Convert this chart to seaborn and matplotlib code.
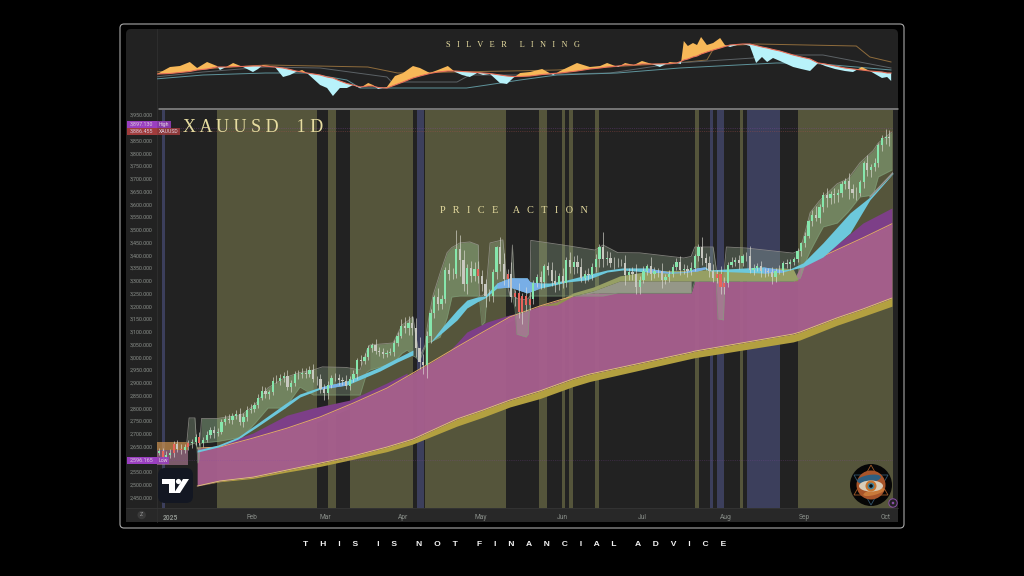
import numpy as np
import pandas as pd
import seaborn as sns
import matplotlib
matplotlib.use("Agg")
import matplotlib.pyplot as plt
from matplotlib.patches import FancyBboxPatch, Rectangle, Circle, Ellipse, Polygon

# daily closes, bar -3 is the last days of Dec 2024
closes = [2634, 2608, 2618,
          2624, 2658, 2640, 2638, 2648, 2662, 2668, 2689, 2664, 2677, 2697, 2715, 2703, 2708, 2745, 2756, 2755, 2770, 2778, 2745, 2764, 2795, 2799,
          2814, 2842, 2868, 2855, 2862, 2908, 2907, 2920, 2925, 2882, 2898, 2935, 2933, 2937, 2936, 2950, 2915, 2916, 2876, 2858,
          2893, 2918, 2920, 2909, 2907, 2889, 2916, 2934, 2988, 2985, 3001, 3035, 3047, 3023, 3022, 3012, 3018, 3020, 3057, 3085, 3123,
          3113, 3133, 3113, 3037, 2982, 2968, 3082, 3175, 3237, 3210, 3229, 3343, 3327, 3327, 3424, 3381, 3288, 3349, 3319, 3344, 3317, 3288,
          3238, 3240, 3335, 3431, 3365, 3306, 3325, 3235, 3250, 3178, 3240, 3205, 3230, 3290, 3315, 3295, 3357, 3342, 3300, 3288, 3318, 3290,
          3380, 3352, 3373, 3352, 3310, 3325, 3322, 3355, 3385, 3432, 3385, 3388, 3369, 3368, 3368, 3368, 3323, 3333, 3328, 3274, 3303,
          3338, 3357, 3326, 3337, 3337, 3302, 3313, 3325, 3355, 3372, 3343, 3347, 3339, 3350, 3396, 3431, 3387, 3368, 3337, 3310, 3327, 3275, 3290,
          3363, 3373, 3380, 3369, 3396, 3397, 3342, 3348, 3356, 3338, 3336, 3333, 3315, 3338, 3338, 3371, 3365, 3375, 3385, 3417, 3447,
          3476, 3533, 3559, 3546, 3587, 3635, 3626, 3641, 3634, 3643, 3677, 3690, 3660, 3645, 3645, 3685, 3763, 3735, 3745, 3760, 3830, 3858,
          3865, 3858]
wick_up = [12, 10, 14,
           16, 12, 18, 20, 10, 14, 12, 10, 18, 12, 14, 10, 16, 14, 12, 18, 22, 10, 14, 24, 16, 12, 18,
           12, 14, 18, 16, 10, 14, 22, 16, 18, 26, 12, 10, 16, 20, 22, 14, 24, 12, 18, 20,
           12, 14, 18, 16, 14, 22, 12, 14, 10, 20, 14, 12, 10, 24, 16, 14, 12, 16, 10, 12, 26,
           36, 30, 28, 40, 44, 30, 22, 14, 8, 34, 16, 10, 28, 22, 76, 56, 40, 18, 30, 28, 34, 24,
           20, 26, 12, 4, 40, 44, 22, 50, 14, 40, 12, 36, 26, 12, 10, 24, 8, 16, 30, 40, 14, 30,
           12, 32, 24, 26, 36, 18, 26, 16, 18, 12, 58, 30, 26, 24, 20, 18, 34, 16, 20, 36, 14,
           20, 8, 36, 18, 12, 32, 14, 16, 10, 18, 24, 18, 14, 24, 8, 12, 42, 22, 28, 30, 16, 30, 24,
           10, 18, 12, 22, 8, 14, 40, 16, 14, 22, 12, 14, 20, 12, 22, 8, 14, 10, 8, 10, 6,
           14, 6, 20, 34, 12, 12, 30, 10, 24, 18, 12, 12, 34, 20, 22, 10, 6, 28, 14, 22, 10, 12,
           28, 26]
wick_dn = [10, 14, 12,
           12, 16, 10, 18, 12, 10, 16, 14, 8, 14, 10, 12, 18, 12, 10, 12, 14, 16, 12, 10, 18, 14, 12,
           14, 12, 10, 16, 18, 12, 8, 14, 16, 10, 20, 12, 18, 14, 16, 14, 12, 22, 16, 24,
           20, 14, 12, 18, 16, 14, 16, 12, 18, 14, 12, 10, 14, 12, 18, 16, 12, 10, 14, 12, 10,
           18, 24, 26, 36, 30, 32, 50, 26, 20, 24, 20, 16, 24, 20, 18, 62, 30, 40, 24, 20, 28, 30,
           40, 18, 22, 30, 26, 24, 30, 20, 36, 24, 48, 22, 20, 22, 16, 26, 22, 18, 22, 32, 24, 20,
           14, 20, 26, 22, 14, 20, 24, 18, 22, 30, 30, 24, 16, 22, 14, 12, 40, 20, 24, 28, 26,
           12, 16, 22, 14, 22, 30, 16, 18, 10, 14, 20, 18, 26, 18, 14, 20, 24, 26, 22, 16, 20, 26, 28,
           14, 10, 16, 22, 12, 18, 10, 20, 12, 24, 22, 14, 28, 20, 12, 14, 16, 22, 12, 10, 20,
           16, 10, 18, 14, 20, 18, 36, 24, 30, 26, 14, 16, 40, 22, 28, 12, 22, 24, 30, 14, 16, 20,
           24, 30]
red_days = [-2, 1, 3, 5, 8, 84, 92, 94, 95, 96, 97, 98, 149, 150, 151]

# vertical session bands, bar units
olive_spans = [(12.8, 40.05), (43.05, 45.2), (49.05, 66.2), (69.5, 91.55), (100.5, 102.7), (106.8, 107.6),
               (108.7, 109.8), (115.8, 116.9), (143.0, 144.1), (155.3, 156.1), (171.1, 196.9)]
blue_spans = [(-2.26, -1.36), (67.3, 69.2), (147.1, 148.0), (149.0, 151.0), (157.2, 166.2)]

# long moving-average ribbons
ma_x = [7.4, 13.6, 22.6, 31.9, 40.9, 49.9, 59.1, 66.2, 78.2, 85.3, 92.6, 100.8, 109.8, 114.4, 142, 143, 169.8, 171.7, 181.7, 188.8, 196.7]
pink_top = [2644, 2648, 2683, 2722, 2766, 2820, 2879, 2938, 3040, 3099, 3158, 3201, 3240, 3252, 3252, 3299, 3299, 3354, 3421, 3468, 3523]
pink_bot = [2495, 2515, 2530, 2558, 2585, 2613, 2648, 2679, 2758, 2793, 2832, 2868, 2915, 2934, 3020, 3024, 3091, 3099, 3154, 3189, 3232]
gold_bot = [2495, 2512, 2525, 2550, 2572, 2600, 2630, 2660, 2730, 2765, 2805, 2838, 2885, 2905, 2995, 2998, 3060, 3068, 3125, 3160, 3200]

purple_a_x = [13.6, 22.6, 31.9, 39, 49, 59.1, 64.6]
purple_a_top = [2656, 2703, 2773, 2801, 2832, 2899, 2938]
purple_a_bot = [2640, 2670, 2710, 2740, 2800, 2870, 2920]
purple_b_x = [76.3, 78.2, 80.9, 86.4, 92.6, 95.4]
purple_b_top = [3028, 3056, 3099, 3138, 3166, 3174]
purple_b_bot = [3020, 3030, 3050, 3090, 3140, 3160]
purple_c_x = [171.7, 177, 182.6, 188.8, 196.7]
purple_c_top = [3354, 3401, 3452, 3526, 3585]
purple_c_bot = [3340, 3370, 3410, 3450, 3510]

olive_ma_x = [100.8, 105.4, 109.8, 115.3, 122.6, 130.8, 144.1, 167, 169.8, 171]
olive_ma_top = [3201, 3217, 3252, 3275, 3319, 3338, 3342, 3350, 3346, 3310]
olive_ma_bot = [3201, 3205, 3240, 3260, 3299, 3299, 3299, 3299, 3299, 3300]
pale_x = [109.8, 115.3, 122.6, 142]
pale_top = [3240, 3260, 3299, 3299]
pale_bot = [3240, 3252, 3252, 3252]

# fast ribbon, cyan with blue stretches
fast_a_x = [7.4, 13.1, 18.5, 23.2, 31.3, 35.4, 40.9, 48.2, 57.2, 61.9, 66.2]
fast_a_top = [2636, 2656, 2687, 2734, 2817, 2856, 2883, 2907, 2962, 2997, 3028]
fast_a_bot = [2628, 2648, 2679, 2722, 2801, 2844, 2875, 2891, 2946, 2981, 3009]
fast_b_x = [70.8, 74.4, 78.2, 80.9, 83.7, 85.8, 89.1, 92.6, 97.3, 98.1, 100.8, 103.5, 108.2, 113.6, 119.1, 123.4, 130, 136.2,
            139.8, 143.6, 145.8, 147.1, 161.6, 167, 168.9, 172.5, 177.9, 185.3, 190.7, 197]
fast_b_top = [3056, 3122, 3185, 3224, 3236, 3240, 3291, 3311, 3311, 3295, 3291, 3291, 3303, 3323, 3342, 3350, 3350, 3334,
              3334, 3350, 3354, 3342, 3354, 3342, 3346, 3370, 3448, 3566, 3628, 3723]
fast_b_bot = [3056, 3099, 3146, 3193, 3217, 3232, 3271, 3275, 3252, 3256, 3271, 3279, 3295, 3303, 3334, 3342, 3334, 3330,
              3332, 3338, 3346, 3338, 3330, 3334, 3342, 3354, 3393, 3487, 3617, 3720]
fast_blue_ranges = [(38, 50), (86, 103), (127, 147), (150, 168)]

# price envelope
env_x = [4.6, 5.2, 6.8, 7.3, 7.6, 7.9, 8.3, 8.6, 13, 19.6, 23.2, 26.7, 31.3, 35.4, 39, 41.5, 48, 51.8, 53.7, 54.5, 60.8, 63.2,
         64.6, 66.2, 66.8, 68, 69.5, 70, 70.8, 71.7, 73.6, 75.5, 76.8, 79, 81.7, 84, 84.3, 85, 85.8, 86.4, 87.2, 90.7, 91.8, 92.6,
         93.3, 94, 94.5, 97, 97.6, 98.1, 98.3, 107, 115.8, 118, 122, 128, 140, 142, 143, 148, 148.8, 149.3, 150.8, 151.2, 151.6,
         157, 169.8, 171.7, 173.6, 174.4, 176.8, 178, 181.8, 184.8, 188, 191.6, 193, 196.7]
env_top = [2668, 2762, 2762, 2650, 2640, 2640, 2700, 2760, 2760, 2775, 2815, 2880, 2920, 2940, 2950, 2962, 2960, 2950, 3030, 3048, 3056, 3126,
           3140, 3158, 3100, 3000, 3048, 3110, 3177, 3244, 3330, 3410, 3430, 3448, 3452, 3440, 3240, 3240, 3250, 3311, 3448, 3460, 3295, 3240,
           3440, 3240, 3230, 3225, 3230, 3240, 3458, 3440, 3420, 3440, 3410, 3409, 3389, 3395, 3432, 3432, 3350, 3295, 3295, 3370, 3432,
           3428, 3408, 3420, 3520, 3566, 3610, 3628, 3680, 3700, 3762, 3810, 3840, 3883]
env_bot = [2650, 2655, 2664, 2650, 2585, 2600, 2660, 2664, 2670, 2687, 2742, 2801, 2801, 2883, 2852, 2852, 2852, 2852, 2942, 2950, 2977, 3015,
           3028, 3005, 3001, 2985, 3040, 3056, 3060, 3065, 3079, 3154, 3236, 3240, 3240, 3240, 3230, 3126, 3138, 3240, 3240, 3240, 3240, 3240,
           3240, 3190, 3090, 3079, 3090, 3240, 3240, 3240, 3240, 3240, 3252, 3252, 3252, 3252, 3298, 3298, 3298, 3150, 3146, 3298, 3298,
           3298, 3298, 3310, 3389, 3415, 3480, 3511, 3526, 3570, 3628, 3636, 3707, 3734]
# stretches of the envelope that read greener, price over the fast ribbon
green_ranges = [(8.6, 39), (54.5, 66.2), (70, 84), (171.7, 196.7)]

# start of year box
box_x = [-3.5, 4.8]
box_top = [2668, 2668]
box_mid = [2635, 2635]
box_bot = [2577, 2577]

# upper pane
osc_x = [-3.5, 0, 2.7, 5.4, 7.4, 10.1, 12.8, 13.6, 15.3, 17.2, 19.9, 22.6, 24, 25.3, 27.2, 28.6, 30.8, 32.7, 34.3, 36, 37.3, 40.9, 42.8, 44.4,
         46.3, 48.2, 49.9, 51.8, 54, 55.3, 56.7, 59.1, 61.3, 63.5, 66.2, 68.1, 70.8, 73, 75.7, 77.7, 79.6, 81.7, 83.7, 85.3, 87.2, 89.9, 91.8,
         93.5, 95.4, 98.1, 101.4, 104.4, 106.3, 110.9, 114.4, 117.2, 119.1, 122.1, 124, 126.4, 128.6, 131.3, 133.5, 136.2, 138.1, 139.2, 140,
         141.1, 142.5, 143.6, 144.7, 146.3, 148, 149.9, 151.2, 152.6, 154.5, 156.1, 158, 159.7, 161.3, 162.7, 164.3, 166.2, 169.8, 172, 174.4,
         176.6, 178.5, 181.2, 183.9, 186.1, 188.5, 190.7, 194, 195.4, 196.5]
osc_val = [34, 41, 42, 46, 40, 46, 42, 38, 41, 45, 41, 36, 39, 43, 42, 41, 31, 33, 36, 38, 35, 23, 20, 12,
           20, 20, 23, 20, 25, 23, 19, 21, 32, 35, 42, 40, 35, 38, 42, 36, 33, 31, 35, 33, 34, 25, 24,
           30, 35, 36, 39, 33, 37, 45, 41, 42, 45, 41, 45, 43, 47, 44, 41, 46, 45, 44, 67,
           62, 65, 63, 71, 63, 65, 70, 63, 61, 63, 64, 62, 45, 51, 46, 50, 47, 41, 39, 37,
           45, 42, 39, 37, 36, 41, 37, 30, 31, 27]
osc_base = [34, 34.5, 35.5, 36.5, 38, 39, 41, 41, 41, 41.5, 41.5, 42, 42, 42, 41.5, 41, 40, 38.5, 37, 36, 35, 33, 31, 30,
            27, 24.5, 23, 21, 22, 22, 20.5, 20, 23, 26, 30, 32, 34.5, 36, 37, 37, 36.5, 36, 35.5, 35, 34.5, 33, 32,
            31.5, 31.5, 32, 33.5, 34.5, 35, 37, 39, 40, 41, 42, 43, 43, 44, 44, 44, 44.5, 45, 46.5, 48,
            49, 51, 52, 54, 56, 58, 60, 61.5, 63, 63.5, 64, 64, 62.5, 61, 60, 58.5, 57, 53, 51, 49,
            45, 44, 42, 40, 39, 38, 37, 36, 35, 35]
slow_x = [-4.1, 26, 53.9, 62, 92.6, 105.4, 138.1, 146.3, 147.9, 150.6, 159.8, 187, 190.7, 196.5]
slow_val = [36, 43, 41, 35, 37, 38, 45, 48, 58, 62, 64, 62, 51, 46]
grey_x = [-4.1, 9, 26, 40.9, 59.1, 60.4, 78.2, 81.7, 95.4, 119.9, 138.1, 158.9, 159.8, 177.9, 196.5]
grey_val = [31, 36, 41, 40, 31, 26, 26, 33, 33, 35, 45, 50, 53, 53, 40]
teal_x = [-4.1, 9, 26, 37, 48.2, 51.8, 80.8, 86.4, 95.4, 105.4, 121.8, 138.9, 165.2, 174.4, 196.5]
teal_val = [29, 33, 35, 35, 28, 20, 20, 23, 28, 33, 35, 40, 45, 45, 38]

month_ticks = [0, 22.3, 42.2, 63.5, 84.8, 107, 128.6, 151.5, 172.8, 195]
month_labels = ['2025', 'Feb', 'Mar', 'Apr', 'May', 'Jun', 'Jul', 'Aug', 'Sep', 'Oct']
price_ticks = list(range(2450, 4000, 50))
price_high = 3897.13
price_last = 3886.455
price_low = 2596.165

BG = '#222222'
CREAM = '#e6dca0'
sns.set_theme(style='dark', rc={'axes.facecolor': BG, 'figure.facecolor': 'black'})
plt.rcParams['font.family'] = ['Roboto', 'DejaVu Sans']

W, H = 1024, 576
fig = plt.figure(figsize=(W / 100, H / 100), dpi=100)


def px_axes(x0, y0, x1, y1, z):
    return fig.add_axes([x0 / W, 1 - y1 / H, (x1 - x0) / W, (y1 - y0) / H], zorder=z)


# furniture behind the charts
base = px_axes(0, 0, W, H, 0)
base.set_xlim(0, W)
base.set_ylim(H, 0)
base.axis('off')
base.add_patch(FancyBboxPatch((120, 24), 784, 504, boxstyle='round,pad=0,rounding_size=4', fc='black', ec='#a8a8a8', lw=0.8))
base.add_patch(FancyBboxPatch((126, 29), 772, 493, boxstyle='round,pad=0,rounding_size=5', fc=BG, ec='none'))
base.add_patch(Rectangle((126, 508), 772, 14, fc='#282828', ec='none'))
base.plot([159, 898], [109, 109], color='#8c8c8c', lw=1.1)
base.plot([157, 157], [29, 522], color='#303030', lw=0.6)
base.plot([126, 898], [508, 508], color='#343434', lw=0.6)

# main pane
ax = px_axes(157, 110, 893, 508, 1)
ax.patch.set_alpha(0)
ax.set_xlim(-3.54, 197)
ax.set_ylim(2409, 3969)
for a, b in olive_spans:
    ax.axvspan(a, b, color='#55553b', lw=0, zorder=1)
for a, b in blue_spans:
    ax.axvspan(a, b, color='#3c3f5c', lw=0, zorder=1)

ax.fill_between(box_x, box_mid, box_top, color='#d09450', alpha=0.7, lw=0, zorder=2)
ax.fill_between(box_x, box_bot, box_mid, color='#c88aa8', alpha=0.55, lw=0, zorder=2)

for xs, top_v, bot_v in [(purple_a_x, purple_a_top, purple_a_bot), (purple_b_x, purple_b_top, purple_b_bot), (purple_c_x, purple_c_top, purple_c_bot)]:
    ax.fill_between(xs, bot_v, top_v, color='#7d3f88', lw=0, zorder=2)
ax.fill_between(ma_x, gold_bot, pink_bot, color='#b3a040', lw=0, zorder=2.5)
ax.fill_between(ma_x, pink_bot, pink_top, color='#a65f8d', alpha=0.97, lw=0, zorder=3)
ax.fill_between(pale_x, pale_bot, pale_top, color='#8f8580', lw=0, zorder=3)
ax.fill_between(olive_ma_x, olive_ma_bot, olive_ma_top, color='#90904e', lw=0, zorder=3)

sns.lineplot(x=ma_x[:13], y=pink_top[:13], ax=ax, color='#e0a868', lw=0.7, errorbar=None, zorder=3.2)
sns.lineplot(x=ma_x[17:], y=pink_top[17:], ax=ax, color='#e0a868', lw=0.7, errorbar=None, zorder=3.2)
sns.lineplot(x=ma_x, y=pink_bot, ax=ax, color='#e3c878', lw=0.6, errorbar=None, zorder=3.2)

# envelope over the ribbons
ex = np.array(env_x)
et = np.array(env_top)
eb = np.array(env_bot)
ax.fill_between(ex, eb, et, color='#a8c8a0', alpha=0.27, lw=0, zorder=4)
for a, b in green_ranges:
    ax.fill_between(ex, eb, et, where=(ex >= a) & (ex <= b), color='#8cc088', alpha=0.2, lw=0, zorder=4)
sns.lineplot(x=env_x, y=env_top, ax=ax, color='#a0a098', lw=0.6, alpha=0.75, errorbar=None, sort=False, zorder=4.1)
sns.lineplot(x=env_x, y=env_bot, ax=ax, color='#7f9f78', lw=0.5, alpha=0.7, errorbar=None, sort=False, zorder=4.1)

# fast ribbon
ax.fill_between(fast_a_x, fast_a_bot, fast_a_top, color='#6cc8dc', lw=0, zorder=4.5)
ax.fill_between(fast_b_x, fast_b_bot, fast_b_top, color='#6cc8dc', lw=0, zorder=4.5)
fx_arr = np.array(fast_b_x)
fa_arr = np.array(fast_a_x)
for a, b in fast_blue_ranges:
    ax.fill_between(fa_arr, fast_a_bot, fast_a_top, where=(fa_arr >= a) & (fa_arr <= b), color='#78aee6', lw=0, zorder=4.6)
    ax.fill_between(fx_arr, fast_b_bot, fast_b_top, where=(fx_arr >= a) & (fx_arr <= b), color='#78aee6', lw=0, zorder=4.6)
sns.lineplot(x=fast_b_x[-2:], y=fast_b_top[-2:], ax=ax, color='#9a9a98', lw=1.0, errorbar=None, zorder=4.6)

# candles
bars = pd.DataFrame({'close': closes, 'up': wick_up, 'dn': wick_dn})
bars['day'] = np.arange(len(bars)) - 3
bars['open'] = bars['close'].shift(1).fillna(bars['close'] - 8)
bars['high'] = bars[['open', 'close']].max(axis=1) + bars['up']
bars['low'] = bars[['open', 'close']].min(axis=1) - bars['dn']
rising = bars['close'] >= bars['open']
body_col = np.where(rising, '#86e6ac', '#c8c8c0')
body_col[bars['day'].isin(red_days).values] = '#e8645c'
ax.vlines(bars['day'], bars['low'], bars['high'], color='#e4e4dc', lw=0.7, alpha=0.6, zorder=5)
ax.bar(bars['day'], (bars['close'] - bars['open']).abs(), bottom=bars[['open', 'close']].min(axis=1), width=0.62,
       color=body_col, lw=0, zorder=5.2)

ax.axhline(price_high, color='#8a4aa8', lw=0.5, ls=':', alpha=0.6, zorder=1.5)
ax.axhline(price_last, color='#a8504a', lw=0.5, ls=':', alpha=0.7, zorder=1.5)
ax.axhline(price_low, color='#8a4aa8', lw=0.5, ls=':', alpha=0.45, zorder=6)

ax.set_yticks(price_ticks)
ax.set_yticklabels([f'{p:,.3f}' for p in price_ticks])
ax.set_xticks(month_ticks)
ax.set_xticklabels(month_labels)
ax.tick_params(axis='y', length=0, pad=3, labelsize=3.9, labelcolor='#8b908b')
ax.tick_params(axis='x', length=0, pad=4, labelsize=4.8, labelcolor='#8b908b')
ax.get_xticklabels()[0].set_fontweight('bold')
ax.set_xlabel('')
ax.set_ylabel('')
sns.despine(ax=ax, left=True, bottom=True)

# upper pane
top = px_axes(157, 29, 893, 108, 1)
top.patch.set_alpha(0)
top.set_xlim(-3.54, 197)
top.set_ylim(0, 79)
top.set_xticks([])
top.set_yticks([])
sns.despine(ax=top, left=True, bottom=True)
ov = np.array(osc_val)
ob = np.array(osc_base)
top.fill_between(osc_x, ob, ov, where=ov >= ob, interpolate=True, color='#f7b858', lw=0, zorder=2)
top.fill_between(osc_x, ob, ov, where=ov <= ob, interpolate=True, color='#b8f2fa', lw=0, zorder=2)
sns.lineplot(x=osc_x, y=osc_base, ax=top, color='#e8705a', lw=0.8, errorbar=None, zorder=3)
sns.lineplot(x=slow_x, y=slow_val, ax=top, color='#8f6c3c', lw=0.7, errorbar=None, zorder=1)
sns.lineplot(x=grey_x, y=grey_val, ax=top, color='#5c6266', lw=0.7, errorbar=None, zorder=1)
sns.lineplot(x=teal_x, y=teal_val, ax=top, color='#5f949c', lw=0.7, errorbar=None, zorder=1)
top.set_xlabel('')
top.set_ylabel('')

# overlay: titles, tags, logos
over = px_axes(0, 0, W, H, 5)
over.patch.set_alpha(0)
over.set_xlim(0, W)
over.set_ylim(H, 0)
over.axis('off')
SERIF = 'Liberation Serif'
over.text(183, 128, 'X A U U S D    1 D', family=SERIF, fontsize=13, color=CREAM, va='center', ha='left')
over.text(513, 45, 'S   I   L   V   E   R      L   I   N   I   N   G', family=SERIF, fontsize=6, color=CREAM, va='center', ha='center')
over.text(513.5, 210.5, 'P   R   I   C   E      A   C   T   I   O   N', family=SERIF, fontsize=7.3, color=CREAM, va='center', ha='center')
over.text(515, 544, 'T     H     I     S        I     S        N     O     T        F     I     N     A     N     C     I     A     L        A     D     V     I     C     E',
          family='Liberation Sans', fontsize=6.1, fontweight='bold', color='#f2f2f2', va='center', ha='center')

for y0, h, col, lab1, x_end, lab2 in [(121, 6.5, '#9a3fc0', '3,897.130', 171, 'High'),
                                      (128, 6.5, '#a03c3c', '3,886.455', 180, 'XAUUSD'),
                                      (457, 7, '#9a3fc0', '2,596.165', 169, 'Low')]:
    over.add_patch(Rectangle((127, y0), 29.5, h, fc=col, ec='none'))
    over.add_patch(Rectangle((157, y0), x_end - 157, h, fc=col, ec='none', alpha=0.85))
    over.text(141.7, y0 + h / 2, lab1, fontsize=3.9, color='#d8c8dc', ha='center', va='center')
    over.text((157 + x_end) / 2, y0 + h / 2, lab2, fontsize=3.7, color='#e0d0e0', ha='center', va='center')

# tradingview badge
over.add_patch(FancyBboxPatch((158, 468), 35, 35, boxstyle='round,pad=0,rounding_size=7', fc='#131722', ec='none'))
over.add_patch(Polygon([(162, 479), (175, 479), (175, 493), (168.5, 493), (168.5, 484), (162, 484)], fc='white', ec='none'))
over.add_patch(Circle((178.5, 481.5), 2.6, fc='white', ec='none'))
over.add_patch(Polygon([(183, 479), (189, 479), (180, 493), (174, 493)], fc='white', ec='none'))

# eye badge
cx, cy = 871, 485
over.add_patch(Circle((cx, cy), 21, fc='#060606', ec='none'))
over.add_patch(Polygon([(cx, cy - 20), (cx + 17, cy + 10), (cx - 17, cy + 10)], fc='none', ec='#a05a28', lw=0.6))
over.add_patch(Polygon([(cx, cy + 20), (cx + 17, cy - 10), (cx - 17, cy - 10)], fc='none', ec='#35566e', lw=0.6))
over.add_patch(Circle((cx, cy), 14.5, fc='#a8552a', ec='none'))
over.add_patch(Ellipse((cx - 2, cy - 6), 24, 8, angle=-10, fc='#2f5f80', ec='none'))
over.add_patch(Ellipse((cx + 3, cy + 7), 22, 6, angle=-15, fc='#c97a3a', ec='none'))
over.add_patch(Ellipse((cx, cy + 1), 24, 11, fc='#d9cdb8', ec='none'))
over.add_patch(Circle((cx, cy + 1), 5.5, fc='#c9752e', ec='none'))
over.add_patch(Circle((cx, cy + 1), 3.4, fc='#3f7f96', ec='none'))
over.add_patch(Circle((cx, cy + 1), 1.8, fc='#0a0a0a', ec='none'))
over.add_patch(Circle((893, 503), 4.2, fc='#222222', ec='#8a4fa8', lw=0.7))
over.add_patch(Circle((893, 503), 1.3, fc='#8a4fa8', ec='none'))

# zoom button
over.add_patch(Circle((141.7, 515), 4.2, fc='#3a3a3a', ec='none'))
over.text(141.7, 515, 'Z', fontsize=3.8, color='#9a9a9a', ha='center', va='center')

fig.savefig('out.png', dpi=100, facecolor='black')
